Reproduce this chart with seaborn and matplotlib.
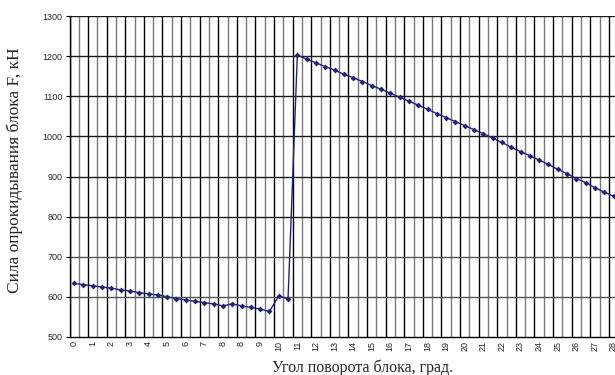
import matplotlib
matplotlib.use("Agg")
import matplotlib.pyplot as plt
import seaborn as sns
import pandas as pd

# values (one point per category, labels on every 2nd)
force = [633, 630, 627, 624, 621, 617, 614, 610, 607, 604, 600, 595,
         592, 588, 585, 582, 577, 582, 577, 573, 569, 563, 602, 594,
         1203, 1193, 1184, 1174, 1166, 1155, 1147, 1137, 1127, 1118, 1108, 1098,
         1088, 1078, 1068, 1057, 1047, 1037, 1027, 1017,
         1007, 996, 985, 973, 962, 952, 941, 930, 918, 907, 895, 885, 872, 861, 851,
         840]
tick_labels = ["0", "1", "2", "3", "4", "5", "6", "7", "8", "8"] + [str(i) for i in range(9, 29)]
y_ticks = [500, 600, 700, 800, 900, 1000, 1100, 1200, 1300]

df = pd.DataFrame({"cat": range(len(force)), "F": force})

sns.set_style("white")
plt.rcParams['font.family'] = ['Liberation Sans', 'DejaVu Sans']

fig = plt.figure(figsize=(6.15, 3.75), dpi=100)
ax = fig.add_axes([69.5 / 615, 1 - 336.7 / 375, 1 - 69.5 / 615, (336.7 - 16.3) / 375])

# grid
for k in range(60):
    ax.axvline(k - 0.5, color="black" if k % 2 == 0 else "#7a7a7a", lw=1.0, zorder=1)
for v in y_ticks[1:]:
    ax.axhline(v, color="#1a1a1a" if v >= 800 else "#555555", lw=1.0, zorder=1)

sns.lineplot(data=df, x="cat", y="F", ax=ax, color="#23237a", lw=1.0,
             marker="D", markersize=3, markeredgewidth=0, zorder=3)

ax.set_xlim(-0.5, 58.16)
ax.set_ylim(500, 1300)
ax.set_yticks(y_ticks)
ax.set_yticklabels([str(v) for v in y_ticks], fontsize=6.5)
ax.set_xticks(list(range(0, 60, 2)))
ax.set_xticklabels(tick_labels, rotation=90, fontsize=6.5)
ax.tick_params(axis="y", length=3, width=0.8, color="black", pad=2, left=True)
ax.tick_params(axis="x", length=0, pad=3)

for s in ["top", "right"]:
    ax.spines[s].set_visible(False)
ax.spines["left"].set_color("black")
ax.spines["bottom"].set_color("black")
ax.spines["left"].set_linewidth(1.0)
ax.spines["bottom"].set_linewidth(1.0)
ax.set_xlabel("")
ax.set_ylabel("")

fig.text(15 / 615, 1 - 170 / 375, "Сила опрокидывания блока F, кН", rotation=90,
         ha="center", va="center", fontsize=12.5, family=["Liberation Serif", "DejaVu Serif"])
fig.text(363 / 615, 1 - 360 / 375, "Угол поворота блока, град.", ha="center", va="top",
         fontsize=11.5, family=["Liberation Serif", "DejaVu Serif"])

fig.savefig("out.png", dpi=100)
